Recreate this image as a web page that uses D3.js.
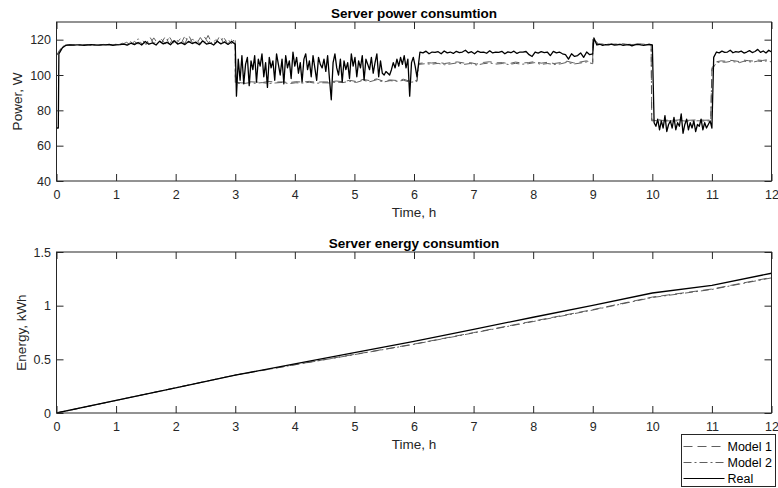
<!DOCTYPE html>
<meta charset="utf-8">
<script src="https://d3js.org/d3.v7.min.js"></script>
<style>
  body { margin: 0; background: #fff; }
  text { font-family: "Liberation Sans", Arial, Helvetica, sans-serif; fill: #262626; }
</style>
<div id="my_dataviz"></div>
<script>

  // power samples, grouped in pieces: [start hour, end hour, values spaced evenly]
  var realPower = [
    [0, 0.03, [70, 70]],
    [0.04, 3.0, [112, 115.5, 116.8, 117, 116.9, 117.1, 117, 116.8, 117, 117.2, 117, 116.9, 117.1, 117, 117.3, 116.8, 117, 117.2, 117.5, 116.9,
      118, 117.2, 118.4, 117, 119, 117.4, 118.2, 117, 119.2, 117.6, 118.5, 117.1, 119.4, 117.5, 118.3, 117.2, 119, 117.8, 118.6, 117.1,
      119.3, 117.5, 118.1, 117, 119.1, 117.6, 118.7, 117.3, 118.9, 117.4]],
    [3.02, 6.05, [88, 109, 97, 111, 95, 106, 110, 94, 108, 103, 111, 96, 109, 105, 112, 99, 107, 93, 110, 104,
      108, 97, 112, 106, 100, 109, 95, 111, 104, 108, 98, 113, 105, 110, 101, 107, 96, 109, 112, 103,
      108, 99, 111, 104, 97, 110, 106, 104, 109, 102, 111, 98, 86, 107, 112, 104, 100, 109, 96, 108,
      103, 107, 98, 112, 105, 110, 99, 108, 104, 111, 97, 109, 106, 103, 110, 101, 107, 112, 99, 108,
      101, 100, 102, 101, 100, 103, 107, 104, 109, 105, 110, 106, 111, 104, 109, 88, 107, 110, 105, 99]],
    [6.1, 9.0, [113, 112.5, 113.5, 112, 113, 112.8, 113.2, 112, 113.6, 112.5, 113, 112.2, 113.4, 112.7, 113, 114, 112.5, 113.2, 112, 113.5,
      112.8, 113, 112.3, 113.7, 112.5, 113, 112.8, 113.4, 112, 113.1, 112.6, 113.5, 112.2, 113, 112.9, 113.3, 111.5, 110.5, 113, 112.4,
      113.2, 112.7, 113, 111, 113.4, 112.5, 113, 112, 111.5, 109, 112, 110.5, 111, 112.5, 110, 113, 111.5, 112]],
    [9.02, 10.0, [121, 117, 117.4, 116.8, 117.2, 117, 117.5, 116.9, 117.1, 117.3, 116.8, 117, 117.2, 116.5, 117, 117.3, 117, 116.8, 117.1, 117.4, 117]],
    [10.03, 11.0, [73, 71, 75, 69, 74, 70, 77, 68, 72, 74, 70, 76, 69, 73, 71, 78, 67, 72, 75, 69, 73, 70, 74, 68, 72, 71, 75, 69, 73, 70, 72, 74, 70]],
    [11.03, 12.0, [110, 113, 112.5, 113.5, 112.8, 113, 114, 112.6, 113.2, 112.9, 113.5, 112.4, 113, 113.8, 112.7, 113.3, 114.5, 112.8, 113.6, 112.5, 114, 113]]
  ];

  var model1Power = [
    [0, 0.15, [111, 114, 116, 117]],
    [0.2, 3.0, [117, 117, 117.2, 116.8, 117, 117.1, 117, 116.9, 117, 117.2, 117, 117, 117.3, 117, 117.5, 118.5, 117, 119, 117.5, 120, 117.2, 121.5,
      117.8, 119.5, 118, 122, 117.5, 120.5, 118.2, 121, 117.6, 122.5, 118, 120, 117.4, 121.8, 118.3, 119.7, 117.9, 122.2, 118, 120.8, 117.6, 121]],
    [3.0, 6.05, [96, 95.5, 96.2, 96, 95.8, 96.3, 96, 96.1, 95.7, 96.2, 96, 96.4, 95.9, 96.1, 96, 96.6, 96.2, 97, 96.3, 97.5, 96.8, 97.8, 96.5, 97.2, 96.9, 97.6, 96.4, 96.8]],
    [6.08, 9.0, [106.5, 107, 106.8, 107.2, 106.5, 107, 107.4, 106.8, 107, 106.2, 107.1, 107.5, 106.9, 107, 106.4, 107.3, 106.8, 107, 107.6, 106.7, 107.2, 106.5, 107, 107.8, 106.9, 107.3, 108, 107]],
    [9.0, 9.98, [121, 117.5, 117.6, 117.4, 117.5, 117.7, 117.3, 117.5, 117.6, 117.4, 117.2]],
    [9.99, 10.98, [74.5, 74.8, 74.2, 74.6, 74.4, 74.7, 74.3, 74.5, 74.6, 74.4, 74.5]],
    [11.0, 12.0, [104, 107.5, 108, 107.8, 108.3, 108, 107.6, 108.4, 108.1, 107.9, 108.5, 108.2, 108.6, 108]]
  ];

  var model2Power = [
    [0, 0.15, [111, 113.5, 116, 117]],
    [0.2, 3.0, [117, 117.1, 116.9, 117, 117.2, 117, 116.8, 117.1, 117, 117.3, 117, 117.1, 117.4, 117.2, 118, 117.1, 118.8, 117.4, 120.5, 117.3, 119.2, 117.6,
      121, 117.9, 120.2, 117.5, 121.7, 118.1, 119.6, 117.7, 122, 118.2, 120.4, 117.5, 121.2, 118, 122.4, 117.8, 120, 118.1, 121.5, 117.7, 119.8, 118]],
    [3.0, 6.05, [95.5, 95, 95.6, 95.3, 95.7, 95.2, 95.5, 95.8, 95.1, 95.6, 95.4, 95.9, 95.3, 95.6, 95.5, 96, 95.7, 96.5, 95.8, 97, 96.2, 97.3, 96, 96.8, 96.4, 97, 95.9, 96.3]],
    [6.08, 9.0, [106, 106.4, 106.1, 106.6, 105.8, 106.3, 106.9, 106, 106.5, 105.6, 106.4, 106.8, 106.2, 106.5, 105.9, 106.6, 106.1, 106.4, 107, 106, 106.5, 105.9, 106.3, 107.2, 106.2, 106.7, 107.4, 106.4]],
    [9.0, 9.98, [120, 117.3, 117.4, 117.2, 117.3, 117.5, 117.1, 117.3, 117.4, 117.2, 117]],
    [9.99, 10.98, [74, 74.3, 73.8, 74.1, 73.9, 74.2, 73.8, 74, 74.1, 73.9, 74]],
    [11.0, 12.0, [103, 107, 107.4, 107.2, 107.7, 107.4, 107, 107.8, 107.5, 107.3, 107.9, 107.6, 108, 107.4]]
  ];

  // energy, read at every hour
  var hours = [0, 1, 2, 3, 4, 5, 6, 7, 8, 9, 10, 11, 12];
  var energyReal = [0, 0.117, 0.234, 0.352, 0.458, 0.563, 0.668, 0.780, 0.892, 1.003, 1.118, 1.190, 1.302];
  var energyModel1 = [0, 0.117, 0.235, 0.354, 0.450, 0.546, 0.642, 0.749, 0.856, 0.963, 1.080, 1.155, 1.263];
  var energyModel2 = [0, 0.117, 0.235, 0.353, 0.449, 0.544, 0.640, 0.746, 0.852, 0.959, 1.076, 1.151, 1.259];

  var xTicks = [0, 1, 2, 3, 4, 5, 6, 7, 8, 9, 10, 11, 12];
  var powerTicks = [40, 60, 80, 100, 120];
  var energyTicks = [0, 0.5, 1, 1.5];
  var legendNames = ["Model 1", "Model 2", "Real"];

  // turn the pieces into {t, v} points
  function toPoints(pieces) {
    var pts = [];
    pieces.forEach(function (p) {
      var n = p[2].length;
      p[2].forEach(function (v, i) {
        pts.push({ t: n > 1 ? p[0] + (p[1] - p[0]) * i / (n - 1) : p[0], v: v });
      });
    });
    return pts;
  }
  function zipHours(vals) {
    return vals.map(function (v, i) { return { t: hours[i], v: v }; });
  }

  var W = 778, H = 488;
  var svg = d3.select("#my_dataviz").append("svg")
    .attr("width", W).attr("height", H);

  var styles = [
    { dash: "9,5", color: "#4d4d4d", width: 0.9 },
    { dash: "8,3,2,3", color: "#4d4d4d", width: 0.9 },
    { dash: null, color: "#000", width: 1.3 }
  ];

  function panel(opt) {
    var left = 56.5, right = 771.5;
    var x = d3.scaleLinear().domain([0, 12]).range([left, right]);
    var y = d3.scaleLinear().domain(opt.yDomain).range([opt.bottom, opt.top]);

    var clipId = "clip" + opt.id;
    svg.append("clipPath").attr("id", clipId).append("rect")
      .attr("x", left).attr("y", opt.top).attr("width", right - left).attr("height", opt.bottom - opt.top);

    var g = svg.append("g");
    var line = d3.line().x(function (d) { return x(d.t); }).y(function (d) { return y(d.v); });

    opt.series.forEach(function (s, i) {
      g.append("path")
        .datum(s)
        .attr("clip-path", "url(#" + clipId + ")")
        .attr("d", line)
        .attr("fill", "none")
        .attr("stroke", styles[i].color)
        .attr("stroke-width", styles[i].width)
        .attr("stroke-dasharray", styles[i].dash)
        .attr("stroke-linejoin", "round");
    });

    // axes with inner ticks on all four sides
    var ax = [
      g.append("g").attr("transform", "translate(0," + opt.bottom + ")")
        .call(d3.axisBottom(x).tickValues(xTicks).tickSizeInner(-7).tickSizeOuter(0).tickPadding(9)),
      g.append("g").attr("transform", "translate(0," + opt.top + ")")
        .call(d3.axisTop(x).tickValues(xTicks).tickSizeInner(-7).tickSizeOuter(0).tickFormat("")),
      g.append("g").attr("transform", "translate(" + left + ",0)")
        .call(d3.axisLeft(y).tickValues(opt.yTicks).tickSizeInner(-7).tickSizeOuter(0).tickPadding(5.5).tickFormat(function (d) { return d; })),
      g.append("g").attr("transform", "translate(" + right + ",0)")
        .call(d3.axisRight(y).tickValues(opt.yTicks).tickSizeInner(-7).tickSizeOuter(0).tickFormat(""))
    ];
    ax.forEach(function (a) {
      a.select(".domain").remove();
      a.selectAll("line").attr("stroke", "#262626");
      a.selectAll("text").attr("font-size", "12.5px").attr("fill", "#262626")
        .attr("font-family", "'Liberation Sans', Arial, sans-serif");
    });

    g.append("rect")
      .attr("x", left).attr("y", opt.top)
      .attr("width", right - left).attr("height", opt.bottom - opt.top)
      .attr("fill", "none").attr("stroke", "#262626").attr("stroke-width", 1);

    g.append("text")
      .attr("x", (left + right) / 2).attr("y", opt.top - 4)
      .attr("text-anchor", "middle")
      .attr("font-size", "13.5px").attr("font-weight", "bold")
      .style("fill", "#000")
      .text(opt.title);

    g.append("text")
      .attr("x", (left + right) / 2).attr("y", opt.bottom + 36)
      .attr("text-anchor", "middle")
      .attr("font-size", "13.5px")
      .text("Time, h");

    g.append("text")
      .attr("transform", "translate(" + opt.yLabelX + "," + (opt.top + opt.bottom) / 2 + ") rotate(-90)")
      .attr("text-anchor", "middle")
      .attr("font-size", "13.5px")
      .text(opt.yLabel);
  }

  panel({
    id: 1, top: 22, bottom: 181, yDomain: [40, 130], yTicks: powerTicks,
    title: "Server power consumtion", yLabel: "Power, W", yLabelX: 22,
    series: [toPoints(model1Power), toPoints(model2Power), toPoints(realPower)]
  });

  panel({
    id: 2, top: 252, bottom: 413, yDomain: [0, 1.5], yTicks: energyTicks,
    title: "Server energy consumtion", yLabel: "Energy, kWh", yLabelX: 26,
    series: [zipHours(energyModel1), zipHours(energyModel2), zipHours(energyReal)]
  });

  // legend
  var lg = svg.append("g").attr("transform", "translate(681.5,434.5)");
  lg.append("rect").attr("width", 94).attr("height", 52)
    .attr("fill", "#fff").attr("stroke", "#262626").attr("stroke-width", 1);
  legendNames.forEach(function (name, i) {
    var yy = 12 + i * 16;
    lg.append("line")
      .attr("x1", 2).attr("x2", 43).attr("y1", yy).attr("y2", yy)
      .attr("stroke", styles[i].color)
      .attr("stroke-width", i === 2 ? 1.2 : 0.9)
      .attr("stroke-dasharray", styles[i].dash);
    lg.append("text")
      .attr("x", 46).attr("y", yy).attr("dy", "0.35em")
      .attr("font-size", "12.5px")
      .style("fill", "#000")
      .text(name);
  });

</script>
